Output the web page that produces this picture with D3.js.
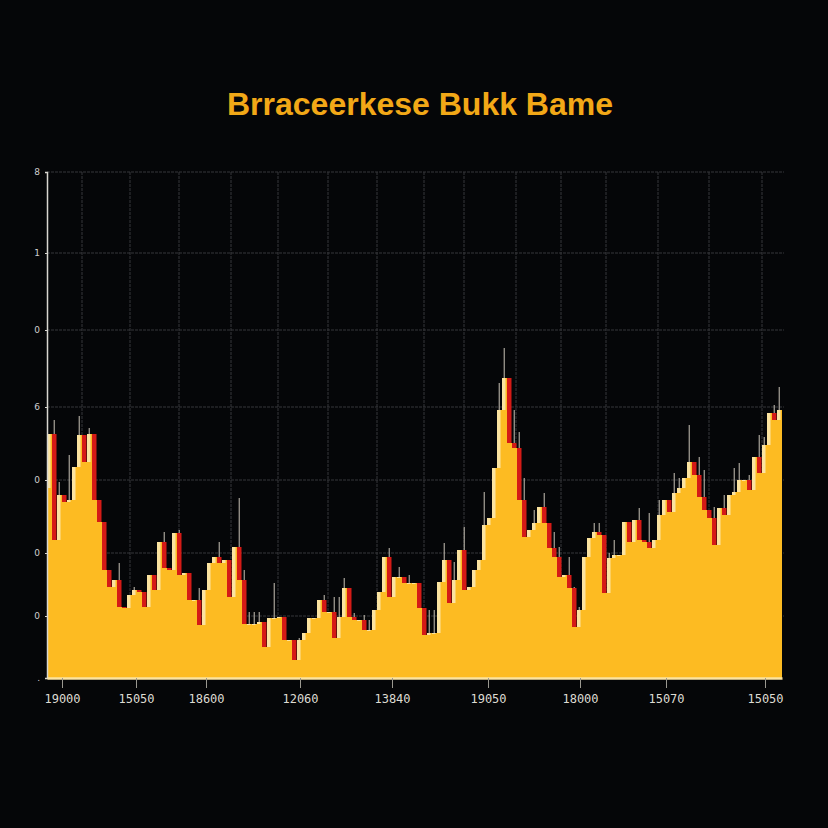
<!DOCTYPE html>
<html>
<head>
<meta charset="utf-8">
<script src="https://cdn.jsdelivr.net/npm/d3@7"></script>
<style>
  html, body { margin: 0; padding: 0; background: #050608; }
  svg { display: block; }
</style>
</head>
<body>
<svg class="chart" width="828" height="828"></svg>
<script>
// closing level of each bar (open = previous close)
var closes = [
  24.4, 13.8, 18.3, 17.6, 17.8, 21.1, 24.3, 21.6, 24.4, 17.8,
  15.6, 10.8, 9.1, 9.8, 7.1, 7.0, 8.3, 8.8, 8.6, 7.1,
  10.3, 8.8, 13.6, 11.0, 10.8, 14.5, 10.3, 10.5, 7.8, 7.8,
  5.3, 8.8, 11.5, 12.1, 11.5, 11.8, 8.1, 13.1, 9.8, 5.4,
  5.4, 5.4, 5.6, 3.1, 6.0, 6.0, 6.1, 3.8, 3.8, 1.8,
  3.8, 4.5, 6.0, 6.0, 7.8, 6.6, 6.6, 4.0, 6.1, 9.0,
  6.1, 5.8, 5.8, 4.8, 4.8, 6.8, 8.6, 12.1, 8.1, 10.1,
  10.1, 9.5, 9.5, 9.5, 7.0, 4.3, 4.5, 4.5, 9.6, 11.8,
  7.5, 9.8, 12.8, 8.8, 9.1, 10.8, 11.8, 15.3, 16.0, 21.0,
  26.8, 30.0, 23.5, 23.0, 17.8, 14.1, 14.8, 15.5, 17.1, 15.5,
  13.0, 12.1, 10.1, 10.3, 9.0, 5.1, 6.8, 12.1, 14.0, 14.6,
  14.3, 8.5, 12.0, 12.3, 12.3, 15.6, 13.6, 15.8, 13.8, 13.6,
  13.0, 13.8, 16.3, 17.8, 16.6, 18.5, 19.0, 20.0, 21.6, 20.3,
  18.1, 16.8, 16.0, 13.3, 17.0, 16.3, 18.3, 18.6, 19.8, 19.8,
  18.8, 22.1, 20.5, 23.3, 26.5, 25.8, 26.8
];
var firstOpen = 19.0;

// wicks: bar index and high
var wickIdx = [1, 2, 4, 6, 8, 9, 10, 11, 14, 17, 23, 25, 26, 30, 34, 38, 39, 40, 41, 42,
  45, 47, 50, 55, 57, 58, 59, 61, 63, 64, 68, 70, 72, 76, 77, 79, 81, 83, 87, 90,
  91, 93, 94, 95, 97, 99, 101, 102, 104, 105, 106, 109, 110, 112, 113, 118, 120, 122, 125, 126,
  128, 130, 131, 133, 135, 137, 138, 140, 141, 142, 143, 145, 146];
var wickHigh = [25.8, 19.6, 22.3, 26.2, 25.0, 20.0, 16.1, 11.5, 11.5, 9.1, 14.6, 12.1, 14.8, 9.0, 13.6, 18.0, 10.8, 6.6, 6.6, 6.6,
  9.5, 5.8, 4.0, 8.3, 8.1, 8.1, 10.0, 6.5, 6.3, 5.8, 13.0, 11.1, 10.3, 6.8, 6.8, 13.5, 11.6, 15.1, 18.6, 29.5,
  33.0, 26.8, 24.6, 20.0, 16.8, 18.5, 14.6, 13.1, 12.1, 9.1, 7.1, 15.5, 15.5, 12.5, 13.8, 17.0, 16.5, 17.8, 20.5, 20.0,
  25.3, 22.1, 20.8, 17.1, 18.3, 21.0, 21.5, 20.3, 21.3, 24.3, 24.1, 27.3, 29.1];

var yTickVals = [0, 6.2, 12.5, 19.8, 27.1, 34.8, 42.5, 50.6];
var yTickLabels = [".", "0", "0", "0", "6", "0", "1", "8"];
var xTickIdx = [3, 17.8, 31.8, 50.6, 69, 88.2, 106.6, 123.8, 143.6];
var xTickLabels = ["19000", "15050", "18600", "12060", "13840", "19050", "18000", "15070", "15050"];
var gridIdx = [7, 16.6, 26.4, 36.8, 46.2, 56.2, 66, 75.4, 83.4, 93.8, 102.8, 111.8, 122.2, 132.4, 143];

var titleText = "Brraceerkese Bukk Bame";

var bg = "#050608",
  gold = "#fdbb22",
  red = "#d51a16",
  cream = "#fbe3a0",
  wickcolor = "#a9a49a",
  gridcolor = "#36373a",
  axiscolor = "#d8d6d0";

var svg = d3.select(".chart"),
  margin = { top: 172, right: 46, bottom: 150, left: 47 },
  width = +svg.attr("width") - margin.left - margin.right,
  height = +svg.attr("height") - margin.top - margin.bottom;

svg.append("rect").attr("width", 828).attr("height", 828).attr("fill", bg);

svg.append("text")
  .attr("x", 420)
  .attr("y", 115)
  .attr("text-anchor", "middle")
  .attr("fill", "#f2a817")
  .style("font-family", "'Liberation Sans', Arial, sans-serif")
  .style("font-weight", "bold")
  .style("font-size", "32px")
  .text(titleText);

var g = svg.append("g").attr("transform", "translate(" + margin.left + "," + margin.top + ")");

var n = closes.length;
var x = d3.scaleLinear().domain([0, n]).range([0, width]);
var y = d3.scaleLinear().domain([0, 50.6]).range([height, 0]);

// grid
g.append("g").selectAll("line")
  .data(yTickVals.slice(1))
  .enter().append("line")
  .attr("x1", 0).attr("x2", width + 2)
  .attr("y1", function(d) { return y(d); })
  .attr("y2", function(d) { return y(d); })
  .attr("stroke", gridcolor)
  .attr("stroke-dasharray", "3,1")
  .attr("stroke-width", 1);
g.append("g").selectAll("line")
  .data(gridIdx)
  .enter().append("line")
  .attr("x1", function(d) { return x(d); })
  .attr("x2", function(d) { return x(d); })
  .attr("y1", 0).attr("y2", height)
  .attr("stroke", gridcolor)
  .attr("stroke-dasharray", "3,1")
  .attr("stroke-width", 1);

// stepped area
var pts = closes.map(function(c, i) { return [i, c]; });
pts.push([n, closes[n - 1]]);
var area = d3.area()
  .curve(d3.curveStepAfter)
  .x(function(d) { return x(d[0]); })
  .y0(height)
  .y1(function(d) { return y(d[1]); });
g.append("path")
  .datum(pts)
  .attr("fill", gold)
  .attr("d", area);

// candles
var bars = closes.map(function(c, i) {
  return { i: i, open: i ? closes[i - 1] : firstOpen, close: c };
});
var bw = x(1) - x(0);

g.append("g").selectAll("line")
  .data(wickIdx)
  .enter().append("line")
  .attr("x1", function(d) { return x(d) + bw * 0.45; })
  .attr("x2", function(d) { return x(d) + bw * 0.45; })
  .attr("y1", function(d) { return y(Math.max(bars[d].open, bars[d].close)); })
  .attr("y2", function(d, k) { return y(wickHigh[k]); })
  .attr("stroke", wickcolor)
  .attr("stroke-width", 1.2);

g.append("g").selectAll("rect")
  .data(bars)
  .enter().append("rect")
  .attr("x", function(d) { return x(d.i); })
  .attr("width", function(d) { return d.close < d.open ? bw * 0.9 : bw * 0.7; })
  .attr("y", function(d) { return y(Math.max(d.open, d.close)); })
  .attr("height", function(d) { return Math.max(1, Math.abs(y(d.open) - y(d.close))); })
  .attr("fill", function(d) { return d.close < d.open ? red : cream; });

// axes
var left = g.append("g")
  .call(d3.axisLeft(y).tickValues(yTickVals).tickFormat(function(d, i) { return yTickLabels[i]; }).tickSize(2).tickPadding(5));
left.select(".domain").style("stroke", axiscolor).style("stroke-width", 1.5);
left.selectAll("line").style("stroke", axiscolor);
left.selectAll("text")
  .style("fill", "#cfcfcf")
  .style("font-family", "'DejaVu Sans', sans-serif")
  .style("font-size", "9px");

var bot = g.append("g")
  .attr("transform", "translate(0," + height + ")")
  .call(d3.axisBottom(x).tickValues(xTickIdx).tickFormat(function(d, i) { return xTickLabels[i]; }).tickSize(10).tickSizeOuter(0).tickPadding(6));
bot.select(".domain").style("stroke", cream).style("stroke-width", 2.5);
bot.selectAll("line").style("stroke", "#9a9890");
bot.selectAll("text")
  .style("fill", "#dedbd2")
  .style("font-family", "'DejaVu Sans Mono', monospace")
  .style("font-size", "12px");
</script>
</body>
</html>
